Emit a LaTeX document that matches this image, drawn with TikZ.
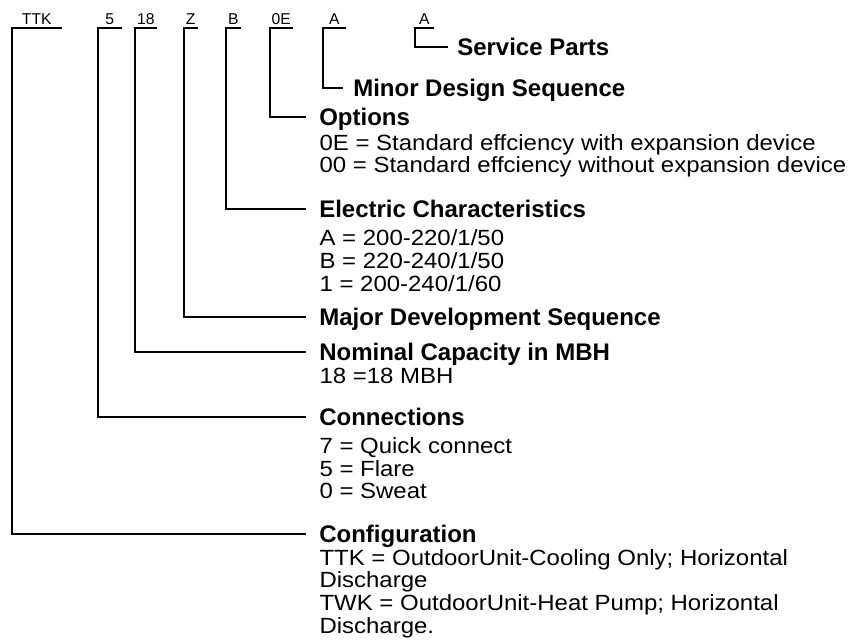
\documentclass[tikz,border=0pt]{standalone}
\usepackage{fontspec}
\setmainfont{Liberation Sans}
\newfontfamily\bodyfont{Liberation Sans}[FakeStretch=1.09]
\usetikzlibrary{positioning}
\tikzset{
  lead/.style={line width=1.5pt},
  code/.style={font=\fontsize{11.75pt}{13pt}\selectfont, inner xsep=0pt, inner ysep=2.5pt, text depth=0pt, anchor=south west},
  title/.style={font=\fontsize{18pt}{20pt}\selectfont\bfseries, inner xsep=9.75pt, inner ysep=0pt, text height=12.9pt, text depth=0pt, anchor=west},
  body/.style={font=\bodyfont\fontsize{16.5pt}{17.1pt}\selectfont, align=left, inner sep=0pt},
}

\begin{document}
\begin{tikzpicture}[x=0.75pt,y=-0.75pt]
  \useasboundingbox (0,0) rectangle (865,643);
  % model number
  \node[code, minimum width=36.75pt] (cTTK) at (12,28) {TTK};
  \node[code, minimum width=17.25pt] (cCon) at (98,28) {5};
  \node[code, minimum width=15.75pt] (cCap) at (135,28) {18};
  \node[code, minimum width=9.75pt] (cMaj) at (184,28) {Z};
  \node[code, minimum width=10.5pt] (cEle) at (226,28) {B};
  \node[code, minimum width=16.5pt] (cOpt) at (270,28) {0E};
  \node[code, minimum width=16.5pt] (cMin) at (323,28) {A};
  \node[code, minimum width=13.5pt] (cSrv) at (415,28) {A};
  % headings
  \node[title, inner xsep=6.75pt] (tSrv) at (448,47) {Service Parts};
  \node[title, inner xsep=7.5pt] (tMin) at (343,88) {Minor Design Sequence};
  \node[title] (tOpt) at (306,117) {Options};
  \node[title] (tEle) at (306,209) {Electric Characteristics};
  \node[title] (tMaj) at (306,317) {Major Development Sequence};
  \node[title] (tCap) at (306,352) {Nominal Capacity in MBH};
  \node[title] (tCon) at (306,417) {Connections};
  \node[title] (tCfg) at (306,534) {Configuration};
  % explanations (base = last line)
  \node[body, below=35.4pt of tOpt.text, anchor=base west] (bOpt)
    {0E = Standard effciency with expansion device\\00 = Standard effciency without expansion device};
  \node[body, below=55.2pt of tEle.text, anchor=base west] (bEle)
    {A = 200-220/1/50\\B = 220-240/1/50\\1 = 200-240/1/60};
  \node[body, below=16.8pt of tCap.text, anchor=base west] (bCap) {18 =18 MBH};
  \node[body, below=55pt of tCon.text, anchor=base west] (bCon)
    {7 = Quick connect\\5 = Flare\\0 = Sweat};
  \node[body, below=68.1pt of tCfg.text, anchor=base west] (bCfg)
    {TTK = OutdoorUnit-Cooling Only; Horizontal\\Discharge\\TWK = OutdoorUnit-Heat Pump; Horizontal\\Discharge.};
  % leaders
  \draw[lead] (cSrv.south east) -- (cSrv.south west) |- (tSrv.west);
  \draw[lead] (cMin.south east) -- (cMin.south west) |- (tMin.west);
  \draw[lead] (cOpt.south east) -- (cOpt.south west) |- (tOpt.west);
  \draw[lead] (cEle.south east) -- (cEle.south west) |- (tEle.west);
  \draw[lead] (cMaj.south east) -- (cMaj.south west) |- (tMaj.west);
  \draw[lead] (cCap.south east) -- (cCap.south west) |- (tCap.west);
  \draw[lead] (cCon.south east) -- (cCon.south west) |- (tCon.west);
  \draw[lead] (cTTK.south east) -- (cTTK.south west) |- (tCfg.west);
\end{tikzpicture}
\end{document}
